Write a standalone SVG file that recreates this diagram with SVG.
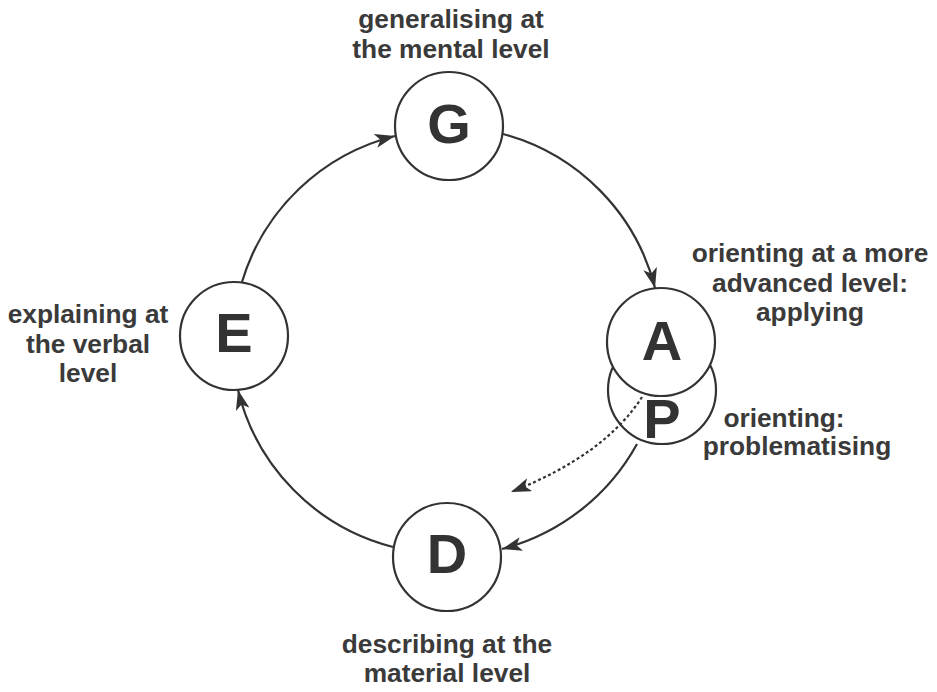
<svg xmlns="http://www.w3.org/2000/svg" width="937" height="692" viewBox="0 0 937 692">
<defs>
<style>
.node circle{fill:#fff;stroke:#333;stroke-width:2.2}
.letter{font-family:"Liberation Sans",Arial,sans-serif;font-weight:bold;font-size:56px;fill:#333;text-anchor:middle}
.lbl{font-family:"Liberation Sans",Arial,sans-serif;font-weight:bold;font-size:26.3px;fill:#3a3a3a;text-anchor:middle}
.conn path{fill:none;stroke:#333;stroke-width:2.2}
.dot{stroke-dasharray:3 2.5;stroke-width:2.4}
</style>
<marker id="ah" markerUnits="userSpaceOnUse" markerWidth="22" markerHeight="14" refX="20" refY="7" orient="auto">
<path d="M0,0 L20,7 L0,14 L5,7 z" fill="#333"/>
</marker>
</defs>
<rect width="937" height="692" fill="#fff"/>
<g id="node-G" class="node">
<circle cx="449" cy="126" r="54"/>
<text class="letter" x="449" y="143">G</text>
<text class="lbl" x="451" y="28">generalising at</text>
<text class="lbl" x="451" y="58">the mental level</text>
</g>
<g id="node-E" class="node">
<circle cx="234" cy="336" r="54"/>
<text class="letter" x="234" y="352">E</text>
<text class="lbl" x="88" y="323">explaining at</text>
<text class="lbl" x="88" y="353">the verbal</text>
<text class="lbl" x="88" y="382">level</text>
</g>
<g id="node-D" class="node">
<circle cx="447" cy="557" r="54"/>
<text class="letter" x="447" y="573">D</text>
<text class="lbl" x="447" y="653">describing at the</text>
<text class="lbl" x="447" y="682">material level</text>
</g>
<g id="node-P" class="node">
<circle cx="662" cy="390" r="54"/>
<text class="letter" x="662" y="438">P</text>
<text class="lbl" x="784" y="427">orienting:</text>
<text class="lbl" x="797" y="455">problematising</text>
</g>
<g id="node-A" class="node">
<circle cx="661" cy="342" r="54"/>
<text class="letter" x="662" y="360">A</text>
<text class="lbl" x="810" y="262">orienting at a more</text>
<text class="lbl" x="810" y="292">advanced level:</text>
<text class="lbl" x="810" y="321">applying</text>
</g>
<g id="connectors" class="conn">
<path d="M503,134 A214,214 0 0 1 655,288" marker-end="url(#ah)"/>
<path d="M242,282 A214,214 0 0 1 395,136" marker-end="url(#ah)"/>
<path d="M393,547 A214,214 0 0 1 238,390" marker-end="url(#ah)"/>
<path d="M637,444 A216,216 0 0 1 502,549" marker-end="url(#ah)"/>
<path class="dot" d="M642,397 Q605,455 511,492" marker-end="url(#ah)"/>
</g>
</svg>
